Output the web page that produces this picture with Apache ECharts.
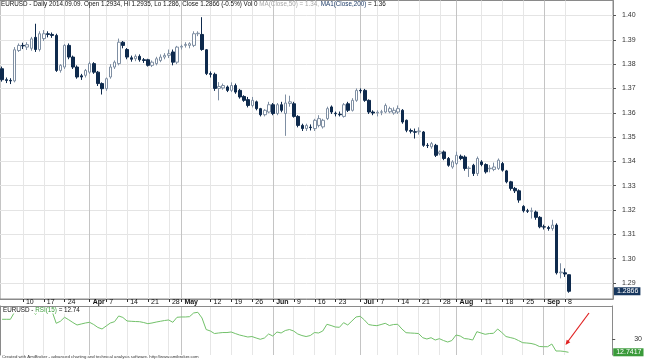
<!DOCTYPE html>
<html><head><meta charset="utf-8">
<script src="https://cdn.jsdelivr.net/npm/echarts@6/dist/echarts.min.js"></script>
<style>html,body{margin:0;padding:0;background:#fff}#c{width:645px;height:361px}</style>
</head><body><div id="c"></div>
<script>
const dates = [
'03-03','03-04','03-05','03-06','03-07','03-10','03-11','03-12','03-13','03-14','03-17','03-18','03-19','03-20','03-21','03-24','03-25','03-26','03-27','03-28','03-31',
'04-01','04-02','04-03','04-04','04-07','04-08','04-09','04-10','04-11','04-14','04-15','04-16','04-17','04-18','04-21','04-22','04-23','04-24','04-25','04-28','04-29','04-30',
'05-01','05-02','05-05','05-06','05-07','05-08','05-09','05-12','05-13','05-14','05-15','05-16','05-19','05-20','05-21','05-22','05-23','05-26','05-27','05-28','05-29','05-30',
'06-02','06-03','06-04','06-05','06-06','06-09','06-10','06-11','06-12','06-13','06-16','06-17','06-18','06-19','06-20','06-23','06-24','06-25','06-26','06-27','06-30',
'07-01','07-02','07-03','07-04','07-07','07-08','07-09','07-10','07-11','07-14','07-15','07-16','07-17','07-18','07-21','07-22','07-23','07-24','07-25','07-28','07-29','07-30','07-31',
'08-01','08-04','08-05','08-06','08-07','08-08','08-11','08-12','08-13','08-14','08-15','08-18','08-19','08-20','08-21','08-22','08-25','08-26','08-27','08-28','08-29',
'09-01','09-02','09-03','09-04','09-05','09-08','09-09'];
const padDates = ['09-10','09-11','09-12','09-15','09-16','09-17','09-18','09-19','09-22','09-23'];

const open = [1.3781,1.3736,1.3733,1.3731,1.3856,1.3877,1.3870,1.3865,1.3910,1.3860,
1.3905,1.3925,1.3922,1.3918,1.3774,1.3788,1.3877,1.3829,1.3788,1.3752,
1.3754,1.3767,1.3802,1.3767,1.3720,1.3699,1.3747,1.3788,1.3802,1.3890,
1.3860,1.3826,1.3822,1.3832,1.3818,1.3818,1.3795,1.3802,1.3815,1.3829,
1.3836,1.3850,1.3808,1.3870,1.3877,1.3877,1.3877,1.3925,1.3922,1.3859,
1.3761,1.3758,1.3700,1.3702,1.3706,1.3692,1.3712,1.3692,1.3667,1.3654,
1.3630,1.3645,1.3617,1.3592,1.3603,1.3633,1.3597,1.3633,1.3597,1.3638,
1.3637,1.3585,1.3548,1.3535,1.3541,1.3535,1.3548,1.3542,1.3576,1.3624,
1.3598,1.3594,1.3585,1.3637,1.3610,1.3651,1.3692,1.3692,1.3651,1.3603,
1.3599,1.3602,1.3603,1.3604,1.3599,1.3603,1.3610,1.3569,1.3527,1.3522,
1.3522,1.3521,1.3466,1.3460,1.3466,1.3432,1.3439,1.3412,1.3377,1.3391,
1.3421,1.3418,1.3371,1.3384,1.3350,1.3398,1.3387,1.3370,1.3367,1.3371,
1.3391,1.3361,1.3316,1.3289,1.3279,1.3215,1.3197,1.3195,1.3192,1.3170,
1.3131,1.3128,1.3124,1.3138,1.2942,1.2942,1.2934];
const close = [1.3736,1.3733,1.3731,1.3859,1.3877,1.3875,1.3880,1.3904,1.3860,1.3925,
1.3925,1.3922,1.3918,1.3774,1.3795,1.3877,1.3829,1.3788,1.3747,1.3747,
1.3774,1.3802,1.3767,1.3720,1.3699,1.3740,1.3788,1.3808,1.3890,1.3877,
1.3829,1.3820,1.3832,1.3818,1.3815,1.3795,1.3808,1.3822,1.3829,1.3836,
1.3843,1.3808,1.3870,1.3873,1.3881,1.3884,1.3925,1.3927,1.3860,1.3761,
1.3758,1.3700,1.3708,1.3712,1.3692,1.3712,1.3685,1.3665,1.3651,1.3630,
1.3651,1.3617,1.3592,1.3610,1.3633,1.3597,1.3633,1.3610,1.3640,1.3645,
1.3585,1.3548,1.3535,1.3548,1.3539,1.3569,1.3576,1.3569,1.3617,1.3603,
1.3596,1.3592,1.3633,1.3610,1.3651,1.3692,1.3690,1.3651,1.3603,1.3599,
1.3602,1.3604,1.3630,1.3617,1.3610,1.3617,1.3562,1.3528,1.3524,1.3520,
1.3525,1.3466,1.3465,1.3473,1.3425,1.3439,1.3412,1.3384,1.3398,1.3425,
1.3412,1.3371,1.3372,1.3350,1.3412,1.3387,1.3357,1.3372,1.3377,1.3405,
1.3364,1.3316,1.3289,1.3279,1.3241,1.3197,1.3195,1.3197,1.3170,1.3131,
1.3130,1.3124,1.3138,1.2942,1.2945,1.2937,1.2866];
const low = [1.3728,1.3722,1.3718,1.3725,1.3850,1.3862,1.3858,1.3855,1.3850,1.3852,
1.3895,1.3910,1.3908,1.3768,1.3765,1.3780,1.3820,1.3780,1.3740,1.3735,
1.3745,1.3760,1.3760,1.3710,1.3675,1.3690,1.3740,1.3780,1.3795,1.3865,
1.3820,1.3810,1.3812,1.3810,1.3805,1.3790,1.3788,1.3795,1.3808,1.3820,
1.3825,1.3795,1.3800,1.3860,1.3868,1.3865,1.3870,1.3915,1.3855,1.3755,
1.3745,1.3690,1.3651,1.3695,1.3685,1.3685,1.3678,1.3658,1.3645,1.3622,
1.3622,1.3610,1.3585,1.3585,1.3598,1.3590,1.3590,1.3602,1.3505,1.3625,
1.3580,1.3540,1.3525,1.3525,1.3527,1.3525,1.3540,1.3535,1.3570,1.3595,
1.3585,1.3585,1.3580,1.3603,1.3605,1.3645,1.3680,1.3645,1.3595,1.3590,
1.3585,1.3590,1.3598,1.3598,1.3592,1.3595,1.3555,1.3520,1.3515,1.3494,
1.3510,1.3460,1.3455,1.3452,1.3418,1.3425,1.3405,1.3378,1.3370,1.3385,
1.3405,1.3362,1.3336,1.3340,1.3340,1.3380,1.3350,1.3355,1.3360,1.3365,
1.3358,1.3310,1.3280,1.3270,1.3230,1.3190,1.3188,1.3165,1.3160,1.3125,
1.3120,1.3115,1.3115,1.2935,1.2919,1.2925,1.2860];
const high = [1.3790,1.3745,1.3742,1.3870,1.3885,1.3888,1.3890,1.3912,1.3966,1.3935,
1.3940,1.3935,1.3930,1.3925,1.3800,1.3882,1.3885,1.3835,1.3795,1.3760,
1.3780,1.3810,1.3808,1.3772,1.3725,1.3745,1.3800,1.3815,1.3905,1.3895,
1.3866,1.3835,1.3840,1.3840,1.3825,1.3822,1.3815,1.3830,1.3840,1.3845,
1.3860,1.3860,1.3875,1.3880,1.3890,1.3890,1.3935,1.3935,1.3993,1.3862,
1.3770,1.3765,1.3726,1.3720,1.3712,1.3725,1.3720,1.3698,1.3672,1.3665,
1.3665,1.3650,1.3620,1.3615,1.3645,1.3640,1.3640,1.3645,1.3675,1.3670,
1.3645,1.3590,1.3555,1.3555,1.3552,1.3575,1.3590,1.3575,1.3625,1.3630,
1.3605,1.3605,1.3640,1.3645,1.3660,1.3700,1.3700,1.3698,1.3655,1.3610,
1.3610,1.3612,1.3638,1.3625,1.3622,1.3630,1.3615,1.3572,1.3535,1.3535,
1.3540,1.3525,1.3475,1.3480,1.3472,1.3445,1.3445,1.3418,1.3405,1.3440,
1.3428,1.3425,1.3380,1.3390,1.3420,1.3405,1.3392,1.3385,1.3395,1.3412,
1.3398,1.3365,1.3320,1.3295,1.3285,1.3220,1.3205,1.3210,1.3198,1.3175,
1.3140,1.3135,1.3160,1.3145,1.2981,1.2960,1.2935];
const rsi = [55.6,55.6,55.6,65,67,67,66,68,62,67,
68,67,66,50.4,53,58.2,55,51.4,48.2,49.5,
50.8,51.7,48.8,45,43,46.9,50.8,52.5,59.9,58,
53.4,53,52.7,52.5,51.4,49.9,50.8,52,53,54,
54.7,51.7,58.2,58.6,58.6,59,63.8,64.7,57.3,42.3,
40.4,37.1,37.8,38.4,38.4,39.1,37.1,35.2,33.9,32.6,
33.2,31.3,29.6,31.3,36.5,33.9,39.1,37.8,41,42.3,
40.4,36.5,34.5,33.2,34.5,38.4,37.8,40.4,49.1,47.5,
45.6,45.2,51.2,48.2,53.4,58.6,59.5,54.7,48.8,47.8,
47.3,48.8,50.4,47.5,48.8,49.1,43,38.2,37.8,37.5,
37.1,31.7,30,31.7,28.7,30.4,28,26.1,28,35.2,
33.9,30.6,30,28.7,39.5,37.8,36.1,37.1,37.4,43,
38.4,33.2,31.9,30.6,28,25.2,24.8,24.2,22.9,20.3,
20,20,23.5,14.4,14.4,13.8,12.7417];

const tickDates = ['03-10','03-17','03-24','04-01','04-07','04-14','04-21','04-28','05-01','05-12','05-19','05-26','06-02','06-09','06-16','06-23','07-01','07-07','07-14','07-21','07-28','08-01','08-11','08-18','08-25','09-01','09-08'];
const tickLabels = ['10','17','24','Apr','7','14','21','28','May','12','19','26','Jun','9','16','23','Jul','7','14','21','28','Aug','11','18','25','Sep','8'];
const priceTicks = [1.29,1.30,1.31,1.32,1.33,1.34,1.35,1.36,1.37,1.38,1.39,1.40];
const rsiTicks = [30];

const cats = dates.concat(padDates);
const isTick = (i, v) => tickDates.indexOf(v) >= 0;
const isMonth = t => isNaN(+t);
const vColors = tickLabels.map(t => isMonth(t) ? '#c4c4c4' : '#e6e6e6');
const FONT = 'Liberation Sans, Arial, sans-serif';
const candles = dates.map((d, i) => [open[i], close[i], low[i], high[i]]);
const n = close.length;
const TF = 6.3;

const chart = echarts.init(document.getElementById('c'), null, {renderer: 'canvas'});
const xBase = (gi, labels) => ({
  type: 'category', gridIndex: gi, data: cats, boundaryGap: true,
  position: gi === 0 ? 'bottom' : 'top',
  axisLine: {show: true, lineStyle: {color: '#8a8a8a', width: 1}},
  axisTick: labels ? {show: true, interval: isTick, alignWithLabel: true, length: 3, lineStyle: {color: '#333'}} : {show: false},
  axisLabel: labels ? {
    show: true, interval: isTick, margin: 0, align: 'left', padding: [0, 0, 0, 3],
    fontSize: 7, fontFamily: FONT, color: '#111',
    formatter: (v) => { const k = tickDates.indexOf(v); if (k < 0) return ''; const t = tickLabels[k]; return isMonth(t) ? '{m|' + t + '}' : t; },
    rich: {m: {fontWeight: 'bold', fontSize: 7, fontFamily: FONT, color: '#111'}}
  } : {show: false},
  splitLine: {show: true, interval: isTick, alignWithLabel: true, lineStyle: {color: vColors, width: 1}}
});

const tagLabel = (bg, val) => ({show: true, position: 'end', distance: 1, formatter: () => val.toFixed(4), backgroundColor: bg, color: '#fff',
  fontSize: 7, fontFamily: FONT, padding: [1, 2, 0, 3]});

chart.setOption({
  animation: false,
  backgroundColor: '#fff',
  title: [
    {text: '{a|EURUSD - Daily 2014.09.09. Open 1.2934, Hi 1.2935, Lo 1.286, Close 1.2866 (-0.5%) Vol 0 }{b|MA(Close,50) = 1.34, }{c|MA1(Close,200)}{a| = 1.36}',
     left: 1, top: 1.5, padding: 0,
     textStyle: {fontSize: TF, fontWeight: 'normal', fontFamily: FONT, rich: {
       a: {fontSize: TF, fontWeight: 'normal', fontFamily: FONT, color: '#111'},
       b: {fontSize: TF, fontWeight: 'normal', fontFamily: FONT, color: '#a8a8a8'},
       c: {fontSize: TF, fontWeight: 'normal', fontFamily: FONT, color: '#1c3a66'}}}},
    {text: '{a|EURUSD - }{g|RSI(15)}{a| = 12.74}', left: 2, top: 307.5, padding: [0, 1], backgroundColor: '#fff',
     textStyle: {fontSize: TF, fontWeight: 'normal', fontFamily: FONT, rich: {
       a: {fontSize: TF, fontWeight: 'normal', fontFamily: FONT, color: '#111'},
       g: {fontSize: TF, fontWeight: 'normal', fontFamily: FONT, color: '#3c9c3c'}}}},
    {text: 'Created with AmiBroker - advanced charting and technical analysis software. http://www.amibroker.com',
     left: 2, top: 355, padding: 0, textStyle: {fontSize: 4.3, fontWeight: 'normal', fontFamily: FONT, color: '#333'}}
  ],
  grid: [
    {left: 0, right: 32, top: 0.5, height: 298.5, show: true, borderColor: '#8a8a8a', borderWidth: 1, backgroundColor: 'transparent'},
    {left: 0, right: 32, top: 306, height: 49, show: false}
  ],
  xAxis: [xBase(0, true), xBase(1, false)],
  yAxis: [
    {type: 'value', gridIndex: 0, position: 'right', min: 1.28342, max: 1.40616, scale: true,
     axisLine: {show: true, lineStyle: {color: '#8a8a8a'}},
     axisTick: {show: true, length: 3, customValues: priceTicks, lineStyle: {color: '#555'}},
     axisLabel: {show: true, customValues: priceTicks, margin: 9, fontSize: 7, fontFamily: FONT, color: '#333', formatter: v => v.toFixed(2)},
     splitLine: {show: true, customValues: priceTicks, lineStyle: {color: '#e4e4e4', width: 1}}},
    {type: 'value', gridIndex: 1, position: 'right', min: 9.22, max: 72.86,
     axisLine: {show: true, lineStyle: {color: '#8a8a8a'}},
     axisTick: {show: true, length: 3, customValues: rsiTicks, lineStyle: {color: '#555'}},
     axisLabel: {show: true, customValues: rsiTicks, margin: 22, fontSize: 7, fontFamily: FONT, color: '#333'},
     splitLine: {show: false}},
    {type: 'value', gridIndex: 1, position: 'left', min: 9.22, max: 72.86,
     axisLine: {show: true, lineStyle: {color: '#8a8a8a'}}, axisTick: {show: false}, axisLabel: {show: false}, splitLine: {show: false}}
  ],
  series: [
    {type: 'candlestick', xAxisIndex: 0, yAxisIndex: 0, data: candles, barWidth: 3,
     itemStyle: {color: '#ffffff', color0: '#0e2a4d', borderColor: '#7f8fa3', borderColor0: '#0e2a4d', borderWidth: 1},
     markLine: {silent: true, precision: 4, symbol: ['none', 'none'], animation: false, lineStyle: {color: 'rgba(0,0,0,0)', width: 0, type: 'solid'},
       label: tagLabel('#17375e', close[n - 1]), emphasis: {disabled: true},
       data: [{yAxis: close[n - 1]}]}},
    {type: 'line', xAxisIndex: 1, yAxisIndex: 1, data: rsi, symbol: 'none', lineStyle: {color: '#72c16a', width: 1}, z: 1,
     markLine: {silent: true, precision: 4, symbol: ['none', 'none'], animation: false, lineStyle: {color: 'rgba(0,0,0,0)', width: 0, type: 'solid'},
       label: tagLabel('#3a9a3a', rsi[n - 1]), emphasis: {disabled: true},
       data: [{yAxis: rsi[n - 1]}]}}
  ],
  graphic: [
    {type: 'line', shape: {x1: 589, y1: 313, x2: 567.5, y2: 342}, style: {stroke: '#e02020', lineWidth: 1.2}, z: 100},
    {type: 'polygon', shape: {points: [[565.5, 345], [570.3, 342.3], [566.7, 339.7]]}, style: {fill: '#e02020'}, z: 100}
  ]
});
</script></body></html>
